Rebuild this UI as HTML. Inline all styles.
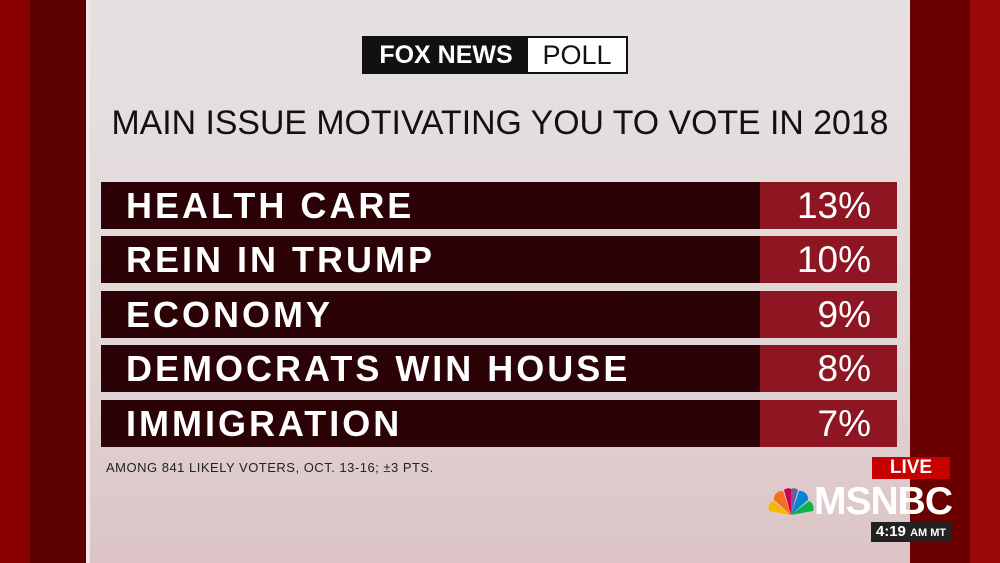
<!DOCTYPE html>
<html><head><meta charset="utf-8"><style>
body{margin:0;width:1000px;height:563px;overflow:hidden;position:relative;background:#7a0000;font-family:"Liberation Sans",sans-serif}
div{position:absolute;box-sizing:border-box}
.lbl{left:101px;width:659px;height:47px;background:#2b0307;color:#fff;font-weight:bold;font-size:36px;letter-spacing:3px;line-height:48px;padding-left:25px;white-space:nowrap}
.val{left:760px;width:137px;height:47px;background:#8e1622;color:#fff;font-size:37px;line-height:48px;text-align:right;padding-right:26px}
</style></head><body>
<div style="left:0;top:0;width:30px;height:563px;background:#8a0000"></div>
<div style="left:30px;top:0;width:58px;height:563px;background:#5c0000"></div>
<div style="left:86px;top:0;width:4px;height:563px;background:#f2e8e8"></div>
<div style="left:90px;top:0;width:820px;height:563px;background:linear-gradient(180deg,#e6e1e1 0%,#e2d8d8 55%,#dcc4c6 100%)"></div>
<div style="left:910px;top:0;width:60px;height:563px;background:#6a0000"></div>
<div style="left:970px;top:0;width:30px;height:563px;background:#9a0a0a"></div>
<div style="left:362px;top:36px;width:266px;height:38px;border:2px solid #111;background:#fff">
<div style="left:0;top:0;width:164px;height:34px;background:#111;color:#fff;font-weight:bold;font-size:25px;line-height:34px;text-align:center">FOX NEWS</div>
<div style="left:164px;top:0;width:98px;height:34px;color:#111;font-size:27px;line-height:34px;text-align:center">POLL</div></div>
<div style="left:0;top:104px;width:1000px;text-align:center;font-size:34px;color:#111;white-space:nowrap;transform:scaleX(0.995);transform-origin:center">MAIN ISSUE MOTIVATING YOU TO VOTE IN 2018</div>
<div style="left:106px;top:460px;font-size:13px;color:#222;letter-spacing:0.5px">AMONG 841 LIKELY VOTERS, OCT. 13-16; ±3 PTS.</div>
<div style="left:872px;top:457px;width:78px;height:22px;background:#c70000;color:#fff;font-weight:bold;font-size:19px;line-height:22px;text-align:center">LIVE</div>
<div style="left:768px;top:488px;width:46px;height:28px">
<svg width="46" height="28"><g transform="translate(23,27)">
<path d="M0 0 L-22 -4 A8 8 0 0 1 -18 -14Z" fill="#f8b800"/><path d="M0 0 L-17 -15 A8 8 0 0 1 -8 -24Z" fill="#f37021"/><path d="M0 0 L-7 -25 A6 6 0 0 1 0 -26Z" fill="#cc004c"/><path d="M0 0 L0 -26 A6 6 0 0 1 7 -25Z" fill="#6460aa"/><path d="M0 0 L8 -24 A8 8 0 0 1 17 -15Z" fill="#0089d0"/><path d="M0 0 L18 -14 A8 8 0 0 1 22 -4Z" fill="#0db14b"/></g></svg></div>
<div style="left:814px;top:480px;font-weight:bold;font-size:39px;color:#fff;letter-spacing:-1px">MSNBC</div>
<div style="left:871px;top:522px;width:80px;height:20px;background:#222;color:#fff;font-weight:bold;font-size:15px;line-height:20px;text-align:center">4:19 <span style="font-size:11px">AM MT</span></div>
<script>
const categories=["HEALTH CARE","REIN IN TRUMP","ECONOMY","DEMOCRATS WIN HOUSE","IMMIGRATION"];
const values=[13,10,9,8,7];
const tops=[182,236,291,345,400];
categories.forEach((c,i)=>{
 const l=document.createElement('div');l.className='lbl';l.style.top=tops[i]+'px';l.textContent=c;
 
 
 const v=document.createElement('div');v.className='val';v.style.top=tops[i]+'px';v.textContent=values[i]+'%';
 
 
 document.body.appendChild(l);document.body.appendChild(v);
});
</script>
</body></html>
